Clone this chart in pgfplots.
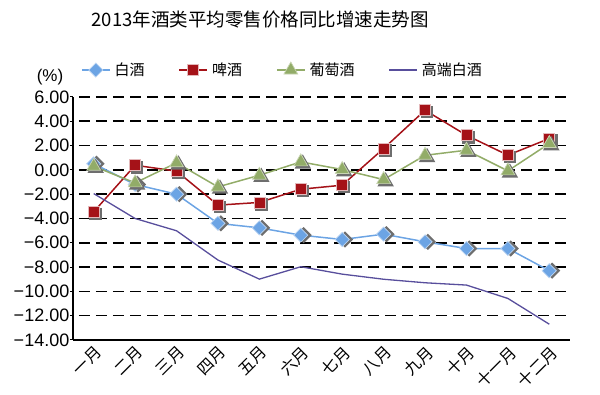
\documentclass[border=0pt]{standalone}
\usepackage{fontspec}
\setmainfont{Liberation Sans}
\newfontfamily\cjk{Noto Sans CJK SC}
\usepackage{pgfplots}
\pgfplotsset{compat=1.18}
\definecolor{cblue}{RGB}{108,164,228}
\definecolor{cred}{RGB}{165,18,24}
\definecolor{cgreen}{RGB}{146,172,104}
\definecolor{cpurple}{RGB}{88,78,156}
\definecolor{cshadow}{RGB}{110,110,110}
\pgfplotstableread{
m baijiu beer wine high
1 0.5 -3.45 0.3 -1.95
2 -1.2 0.38 -1.07 -4.0
3 -2.0 -0.1 0.58 -5.01
4 -4.4 -2.9 -1.4 -7.42
5 -4.77 -2.68 -0.44 -8.99
6 -5.37 -1.59 0.66 -7.97
7 -5.73 -1.26 0.03 -8.58
8 -5.29 1.76 -0.8 -9.0
9 -5.92 4.91 1.2 -9.29
10 -6.47 2.85 1.62 -9.48
11 -6.47 1.21 -0.08 -10.58
12 -8.3 2.58 2.17 -12.7
}\data
\begin{document}
\begin{tikzpicture}
\useasboundingbox (0,0) rectangle (600pt,395pt);
\node[font=\fontsize{18.5}{20}\selectfont\cjk] at (260pt,375pt) {2013年酒类平均零售价格同比增速走势图};
\node[font=\fontsize{17}{18}\selectfont] at (50pt,318pt) {(\%)};
\begin{axis}[
  at={(73pt,55pt)}, anchor=south west,
  scale only axis, width=497pt, height=243pt,
  xmin=0.5, xmax=12.5, ymin=-14, ymax=6,
  axis x line*=bottom, axis y line*=left,
  axis line style={line width=1.6pt, black, -},
  xtick={1,...,12},
  xticklabels={一月,二月,三月,四月,五月,六月,七月,八月,九月,十月,十一月,十二月},
  xticklabel style={font=\fontsize{16}{18}\selectfont\cjk, rotate=45, anchor=north east, inner sep=1pt},
  x tick style={draw=none},
  ytick={-14,-12,...,6},
  yticklabels={−14.00,−12.00,−10.00,−8.00,−6.00,−4.00,−2.00,0.00,2.00,4.00,6.00},
  yticklabel style={font=\fontsize{18}{20}\selectfont, inner sep=0.5pt},
  y tick style={black, line width=1pt},
  tick align=outside, major tick length=3pt,
  ymajorgrids,
  grid style={black, line width=1.6pt, dash pattern=on 11pt off 6pt, dash phase=-6pt},
  legend columns=4,
  legend style={at={(axis description cs:0.4215,1.111)}, anchor=center, draw=none, fill=none,
    font=\fontsize{15}{17}\selectfont\cjk, column sep=2pt,
    /tikz/every even column/.append style={column sep=32pt}},
  legend image code/.code={\draw[mark repeat=2,mark phase=2,#1] plot coordinates {(0pt,0pt) (14pt,0pt) (28pt,0pt)};},
  every axis plot/.append style={line width=1.5pt},
]
% baijiu
\addplot[forget plot, only marks, mark=square*, mark size=5pt, mark options={rotate=45, xshift=2pt, yshift=-2pt, fill=cshadow, draw=cshadow}] table[x=m,y=baijiu]{\data};
\addplot[color=cblue, mark=square*, mark size=5pt, mark options={rotate=45, fill=cblue, draw=white!55!cblue, line width=0.7pt}] table[x=m,y=baijiu]{\data};
\addlegendentry{白酒}
% beer
\addplot[forget plot, only marks, mark=square*, mark size=5.5pt, mark options={xshift=2pt, yshift=-2pt, fill=cshadow, draw=cshadow}] table[x=m,y=beer]{\data};
\addplot[color=cred, mark=square*, mark size=5.5pt, mark options={fill=cred, draw=white!70!cred, line width=0.7pt}] table[x=m,y=beer]{\data};
\addlegendentry{啤酒}
% wine
\addplot[forget plot, only marks, mark=triangle*, mark size=8pt, mark options={xshift=2pt, yshift=-2pt, fill=cshadow, draw=cshadow}] table[x=m,y=wine]{\data};
\addplot[color=cgreen, mark=triangle*, mark size=8pt, mark options={fill=cgreen, draw=white!50!cgreen, line width=0.7pt}] table[x=m,y=wine]{\data};
\addlegendentry{葡萄酒}
% high-end baijiu
\addplot[color=cpurple, no marks, line width=1.3pt] table[x=m,y=high]{\data};
\addlegendentry{高端白酒}
\end{axis}
\end{tikzpicture}
\end{document}
